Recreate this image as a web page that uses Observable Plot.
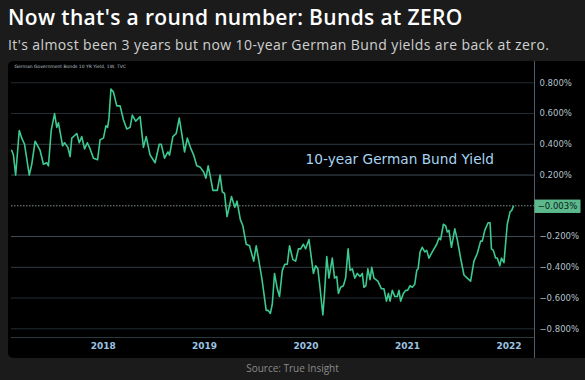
<!DOCTYPE html>
<html><head><meta charset="utf-8">
<script src="https://cdn.jsdelivr.net/npm/d3@7"></script>
<script src="https://cdn.jsdelivr.net/npm/@observablehq/plot@0.6"></script>
<style>
html,body{margin:0;padding:0;background:#1b1b1b;width:585px;height:380px;overflow:hidden;position:relative;}
#title{position:absolute;left:8px;top:3px;font:600 21px "Open Sans";letter-spacing:0.35px;color:#fff;white-space:nowrap;}
#subtitle{position:absolute;left:8px;top:35px;font:400 14px "Open Sans";letter-spacing:0.4px;color:#d0d0d0;white-space:nowrap;}
#panel{position:absolute;left:8px;top:61px;width:577px;height:297px;background:#000;border-radius:5px 0 0 5px;overflow:hidden;}
#source{position:absolute;left:0;top:361px;width:585px;text-align:center;font:400 10px "Open Sans";color:#8a8a8a;}
</style></head>
<body>
<div id="title">Now that's a round number: Bunds at ZERO</div>
<div id="subtitle">It's almost been 3 years but now 10-year German Bund yields are back at zero.</div>
<div id="panel"></div>
<div id="source">Source: True Insight</div>
<script>
const dates = ["2017-02-06","2017-02-12","2017-02-20","2017-03-05","2017-03-14","2017-03-24","2017-04-10","2017-04-19","2017-05-01","2017-05-19","2017-05-31","2017-06-12","2017-06-18","2017-06-28","2017-07-10","2017-07-18","2017-07-24","2017-08-08","2017-08-15","2017-08-27","2017-09-04","2017-09-10","2017-09-28","2017-10-07","2017-10-16","2017-10-26","2017-11-05","2017-11-15","2017-11-27","2017-12-12","2017-12-21",
"2018-01-02","2018-01-11","2018-01-17","2018-01-22","2018-01-29","2018-02-07","2018-02-19","2018-03-03","2018-03-15","2018-03-27","2018-04-08","2018-04-16","2018-04-28","2018-05-14","2018-05-26","2018-06-05","2018-06-19","2018-07-07","2018-07-22","2018-07-29","2018-08-10","2018-08-22","2018-08-28","2018-09-09","2018-09-21","2018-10-02","2018-10-11","2018-10-21","2018-10-31","2018-11-11","2018-11-23","2018-12-04","2018-12-17","2018-12-29",
"2019-01-06","2019-01-14","2019-01-22","2019-01-31","2019-02-16","2019-02-26","2019-03-06","2019-03-14","2019-03-23","2019-04-08","2019-04-20","2019-04-28","2019-05-10","2019-05-19","2019-05-31","2019-06-12","2019-06-27","2019-07-06","2019-07-15","2019-07-27","2019-08-11","2019-08-18","2019-08-26","2019-09-02","2019-09-10","2019-09-20","2019-09-28","2019-10-08","2019-10-17","2019-10-26","2019-11-03","2019-11-15","2019-11-25","2019-12-05","2019-12-13","2019-12-23","2019-12-31",
"2020-01-12","2020-01-20","2020-01-28","2020-02-05","2020-02-13","2020-02-20","2020-03-02","2020-03-08","2020-03-16","2020-03-24","2020-04-05","2020-04-13","2020-04-21","2020-04-27","2020-05-05","2020-05-15","2020-05-23","2020-06-01","2020-06-08","2020-06-16","2020-06-25","2020-07-04","2020-07-14","2020-07-22","2020-07-28","2020-08-04","2020-08-11","2020-08-19","2020-08-25","2020-09-02","2020-09-16","2020-09-29","2020-10-08","2020-10-17","2020-10-24","2020-10-30","2020-11-07","2020-11-16","2020-11-25","2020-12-01","2020-12-07","2020-12-17","2020-12-25",
"2021-01-01","2021-01-10","2021-01-18","2021-01-27","2021-02-03","2021-02-08","2021-02-15","2021-02-23","2021-03-04","2021-03-11","2021-03-19","2021-03-31","2021-04-16","2021-04-24","2021-04-30","2021-05-10","2021-05-18","2021-05-24","2021-05-30","2021-06-08","2021-06-20","2021-06-29","2021-07-11","2021-07-23","2021-08-04","2021-08-16","2021-08-28","2021-09-09","2021-09-21","2021-09-27","2021-10-06","2021-10-18","2021-10-25","2021-10-30","2021-11-06","2021-11-14","2021-11-20","2021-11-29","2021-12-05","2021-12-14","2021-12-26",
"2022-01-05","2022-01-11","2022-01-17"];
const yields = [0.36,0.33,0.20,0.49,0.44,0.40,0.20,0.27,0.42,0.36,0.27,0.28,0.26,0.49,0.60,0.51,0.54,0.39,0.41,0.38,0.32,0.44,0.47,0.41,0.45,0.37,0.41,0.37,0.31,0.30,0.43,
0.44,0.52,0.51,0.57,0.76,0.74,0.65,0.65,0.56,0.50,0.51,0.59,0.55,0.58,0.38,0.45,0.33,0.28,0.40,0.40,0.31,0.35,0.33,0.45,0.47,0.57,0.47,0.35,0.44,0.38,0.33,0.26,0.25,0.22,
0.18,0.26,0.19,0.10,0.10,0.20,0.09,0.08,-0.07,0.06,-0.01,0.03,-0.09,-0.13,-0.25,-0.26,-0.36,-0.26,-0.35,-0.48,-0.68,-0.68,-0.70,-0.64,-0.44,-0.54,-0.59,-0.42,-0.38,-0.38,-0.26,-0.35,-0.36,-0.28,-0.28,-0.25,-0.28,
-0.22,-0.33,-0.44,-0.39,-0.41,-0.52,-0.71,-0.57,-0.33,-0.47,-0.34,-0.47,-0.46,-0.57,-0.53,-0.52,-0.47,-0.28,-0.42,-0.41,-0.47,-0.44,-0.46,-0.44,-0.53,-0.52,-0.41,-0.48,-0.40,-0.47,-0.49,-0.54,-0.54,-0.62,-0.57,-0.62,-0.55,-0.59,-0.59,-0.55,-0.62,-0.57,-0.55,
-0.55,-0.52,-0.53,-0.51,-0.42,-0.41,-0.30,-0.27,-0.30,-0.29,-0.34,-0.30,-0.25,-0.21,-0.22,-0.12,-0.13,-0.17,-0.16,-0.27,-0.15,-0.22,-0.34,-0.45,-0.47,-0.49,-0.36,-0.31,-0.23,-0.23,-0.16,-0.11,-0.11,-0.28,-0.29,-0.34,-0.34,-0.39,-0.34,-0.37,-0.12,
-0.04,-0.03,-0.003];
const yTicks = [0.8, 0.6, 0.4, 0.2, -0.2, -0.4, -0.6, -0.8];
const yearTicks = ["2018", "2019", "2020", "2021", "2022"];
const seriesName = "10-year German Bund Yield";
const sourceHeader = "German Government Bonds 10 YR Yield, 1W, TVC";

const data = dates.map((d, i) => ({date: new Date(d), value: yields[i]}));
const last = data[data.length - 1];
const xDomain = [new Date("2017-02-05"), new Date("2022-04-03")];
const yDomain = [-0.8566, 0.9385];
const fmt = d => d3.format(".3f")(d) + "%";

const chart = Plot.plot({
  width: 577, height: 297,
  marginLeft: 3, marginRight: 51, marginTop: 0, marginBottom: 21,
  style: {background: "transparent", fontFamily: "DejaVu Sans", overflow: "visible"},
  x: {type: "utc", domain: xDomain},
  y: {domain: yDomain},
  marks: [
    Plot.ruleY(yTicks, {stroke: d => Math.abs(d) < 0.3 ? "#404c54" : Math.abs(d) < 0.5 ? "#313b41" : "#232c30", strokeWidth: 1}),
    Plot.ruleY([0], {stroke: "#7f8f8b", strokeDasharray: "1.5,1.5"}),
    Plot.ruleY([yDomain[0]], {stroke: "#2b383e"}),
    Plot.ruleX([xDomain[1]], {y1: yDomain[1], y2: yDomain[0] - 0.14, stroke: "#4c5c68"}),
    Plot.line(data, {x: "date", y: "value", stroke: "#3dca90", strokeWidth: 1.6}),
    Plot.text([seriesName], {x: new Date("2020-12-04"), y: 0.301, text: d => d, fill: "#a6d4f2", fontSize: 13.7, textAnchor: "middle"}),
    Plot.text([sourceHeader], {frameAnchor: "top-left", dx: 3, dy: 3, text: d => d, fill: "#b8c0c8", fontSize: 4.5, textAnchor: "start"}),
    Plot.axisY({anchor: "right", ticks: yTicks, tickSize: 0, tickPadding: 5, tickFormat: fmt, fill: "#b3c1cb", fontSize: 8.5, label: null}),
    Plot.axisX({ticks: yearTicks.map(y => new Date(y + "-01-01")), tickFormat: d3.utcFormat("%Y"), tickSize: 0, tickPadding: 5, fill: "#9cc4e2", fontSize: 9, fontWeight: "bold", label: null}),
    Plot.text([last], {
      y: "value", frameAnchor: "right", dx: 23, text: d => fmt(d.value),
      fill: "#0d2118", fontSize: 8.5, textAnchor: "middle",
      render(index, scales, values, dims, ctx, next) {
        const g = next(index, scales, values, dims, ctx);
        const x0 = dims.width - dims.marginRight;
        const y = values.y ? values.y[index[0]] : scales.y(last.value);
        const r = document.createElementNS("http://www.w3.org/2000/svg", "rect");
        r.setAttribute("x", x0 - 23);
        r.setAttribute("y", y - 6.7);
        r.setAttribute("width", 46);
        r.setAttribute("height", 13.4);
        r.setAttribute("fill", "#5cb98c");
        g.insertBefore(r, g.firstChild);
        return g;
      }
    })
  ]
});
document.getElementById("panel").appendChild(chart);
</script>
</body></html>
